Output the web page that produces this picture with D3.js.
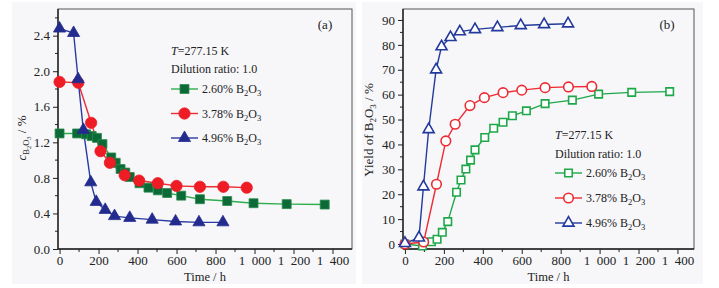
<!DOCTYPE html>
<html>
<head>
<meta charset="utf-8">
<script src="https://cdn.jsdelivr.net/npm/d3@7"></script>
<style>
  body { margin: 0; background: #fff; }
  text { font-family: "Liberation Serif", "Times New Roman", serif; fill: #222; }
</style>
</head>
<body>
<div id="chart"></div>
<script>
const width = 719;
const height = 288;

// sampling times (h)
const timeGreen = [0, 90, 136, 165, 192, 220, 265, 288, 313, 337, 360, 410, 456, 504, 552, 624, 720, 860, 995, 1165, 1360];
const timeRed = [0, 96, 162, 210, 258, 334, 408, 504, 600, 720, 840, 960];
const timeBlue = [0, 72, 95, 122, 160, 188, 234, 282, 360, 475, 595, 715, 838];

// (a) B2O3 concentration, %
const concGreen = [1.30, 1.30, 1.29, 1.27, 1.25, 1.18, 1.03, 0.97, 0.90, 0.86, 0.81, 0.74, 0.69, 0.66, 0.63, 0.60, 0.56, 0.54, 0.515, 0.505, 0.50];
const concRed = [1.88, 1.87, 1.42, 1.10, 0.97, 0.83, 0.77, 0.74, 0.71, 0.70, 0.70, 0.69];
const concBlue = [2.48, 2.43, 1.91, 1.34, 0.75, 0.53, 0.44, 0.37, 0.35, 0.33, 0.31, 0.30, 0.30];

// (b) yield of B2O3, %
const yieldGreen = [0, -0.8, 0.9, 1.9, 4.7, 9, 20.8, 25.7, 30.1, 33.7, 37.8, 42.8, 46.5, 48.9, 51.5, 53.5, 56.4, 57.8, 60.2, 60.9, 61.2];
const yieldRed = [0, 0.8, 24, 41.4, 48.1, 55.6, 58.8, 60.8, 61.8, 62.8, 63.1, 63.3];
const yieldBlue = [0.3, 2.5, 23, 46, 70, 79.3, 83, 85.3, 86.2, 87, 87.8, 88.2, 88.5];

const seriesNames = ["2.60%", "3.78%", "4.96%"];
const xTicks = [0, 200, 400, 600, 800, 1000, 1200, 1400];
const yTicksA = [0, 0.4, 0.8, 1.2, 1.6, 2.0, 2.4];
const yTicksB = [0, 10, 20, 30, 40, 50, 60, 70, 80, 90];

const svg = d3.select("#chart").append("svg")
  .attr("width", width).attr("height", height);

// light panel backgrounds
svg.append("rect").attr("x", 12).attr("y", 2).attr("width", 344).attr("height", 282).attr("fill", "#f7f7f9");
svg.append("rect").attr("x", 362).attr("y", 2).attr("width", 341).attr("height", 282).attr("fill", "#f7f7f9");

// thousands separated by a figure space, as in the original ("1 000")
const fmtThousands = (d) => String(d).replace(/\B(?=(\d{3})+(?!\d))/g, "\u2007");

function zip(t, v) { return t.map((d, i) => [d, v[i]]); }

// draws one panel: frame, axes, lines, markers
function panel(opt) {
  const { x, y, yTicks, yMinor, yFmt, series, hollow } = opt;
  const g = svg.append("g");
  const [x0, x1] = x.range();
  const [y0, y1] = y.range();

  g.append("rect")
    .attr("x", x0).attr("y", y1).attr("width", x1 - x0).attr("height", y0 - y1)
    .attr("fill", "none").attr("stroke", "#555").attr("stroke-width", 1);

  // minor ticks
  const xMinor = d3.range(100, 1500, 200);
  g.append("g").selectAll("line").data(xMinor).join("line")
    .attr("x1", (d) => x(d)).attr("x2", (d) => x(d))
    .attr("y1", y0).attr("y2", y0 + 3).attr("stroke", "#222");
  g.append("g").selectAll("line").data(yMinor).join("line")
    .attr("x1", x0 - 3).attr("x2", x0)
    .attr("y1", (d) => y(d)).attr("y2", (d) => y(d)).attr("stroke", "#222");

  const ax = g.append("g")
    .attr("transform", `translate(0,${y0})`)
    .call(d3.axisBottom(x).tickValues(xTicks).tickFormat(fmtThousands).tickSizeOuter(0).tickSize(5).tickPadding(2));
  const ay = g.append("g")
    .attr("transform", `translate(${x0},0)`)
    .call(d3.axisLeft(y).tickValues(yTicks).tickFormat(yFmt).tickSizeOuter(0).tickSize(5).tickPadding(3));
  [ax, ay].forEach((a) => {
    a.select(".domain").attr("stroke", "#222").attr("stroke-width", 1.4);
    a.selectAll(".tick line").attr("stroke", "#222");
    a.selectAll(".tick text").attr("font-size", 13).attr("fill", "#222")
      .style("font-family", '"Liberation Serif", serif');
  });
  ax.select(".domain").attr("d", `M${x0},0H${x1}`);
  ay.select(".domain").attr("d", `M0,${y0}V${y1}`);

  g.append("text").attr("x", (x0 + x1) / 2).attr("y", 281)
    .attr("text-anchor", "middle").attr("font-size", 12.5).text("Time / h");

  const line = d3.line().x((d) => x(d[0])).y((d) => y(d[1]));
  series.forEach((s) => {
    g.append("path").datum(s.data).attr("d", line)
      .attr("fill", "none").attr("stroke", s.line).attr("stroke-width", 1.4);
  });
  series.forEach((s) => {
    g.append("g").selectAll("path").data(s.data).join("path")
      .attr("transform", (d) => `translate(${x(d[0])},${y(d[1])})`)
      .attr("d", d3.symbol().type(s.symbol).size(s.size))
      .attr("fill", hollow ? "#fff" : s.fill)
      .attr("stroke", hollow ? s.line : s.edge)
      .attr("stroke-width", hollow ? 1.6 : 0.8);
  });
  return g;
}

function legend(g, lx, yT, yD, yFirst, gap, series, hollow) {
  g.append("text").attr("x", lx).attr("y", yT).attr("font-size", 12)
    .call((t) => {
      t.append("tspan").attr("font-style", "italic").text("T");
      t.append("tspan").text("=277.15 K");
    });
  g.append("text").attr("x", lx).attr("y", yD).attr("font-size", 12)
    .text("Dilution ratio: 1.0");
  series.forEach((s, i) => {
    const yy = yFirst + i * gap;
    g.append("line").attr("x1", lx).attr("x2", lx + 27).attr("y1", yy - 4).attr("y2", yy - 4)
      .attr("stroke", s.line).attr("stroke-width", 1.4);
    g.append("path").attr("transform", `translate(${lx + 13.5},${yy - 4})`)
      .attr("d", d3.symbol().type(s.symbol).size(s.size))
      .attr("fill", hollow ? "#fff" : s.fill)
      .attr("stroke", hollow ? s.line : s.edge)
      .attr("stroke-width", hollow ? 1.6 : 0.8);
    const t = g.append("text").attr("x", lx + 31).attr("y", yy).attr("font-size", 12);
    t.append("tspan").text(seriesNames[i] + " B");
    t.append("tspan").attr("font-size", 8.5).attr("dy", 3).text("2");
    t.append("tspan").attr("dy", -3).text("O");
    t.append("tspan").attr("font-size", 8.5).attr("dy", 3).text("3");
  });
}

// ---- panel (a)
const xA = d3.scaleLinear().domain([-8, 1500]).range([58, 352]);
const yA = d3.scaleLinear().domain([0, 2.7]).range([249, 9]);
const seriesA = [
  { data: zip(timeGreen, concGreen), line: "#2eaf4d", fill: "#0c6a38", edge: "#2a8a4a", symbol: d3.symbolSquare, size: 80 },
  { data: zip(timeRed, concRed), line: "#ee2c34", fill: "#ee1c25", edge: "#ee1c25", symbol: d3.symbolCircle, size: 100 },
  { data: zip(timeBlue, concBlue), line: "#2b3aa0", fill: "#232c8e", edge: "#232c8e", symbol: d3.symbolTriangle, size: 64 }
];
const gA = panel({
  x: xA, y: yA, yTicks: yTicksA, yMinor: [0.2, 0.6, 1.0, 1.4, 1.8, 2.2, 2.6],
  yFmt: d3.format(".1f"), series: seriesA, hollow: false
});
legend(gA, 171, 55, 73, 93, 24.5, seriesA, false);
gA.append("text").attr("x", 325).attr("y", 29).attr("text-anchor", "middle").attr("font-size", 13).text("(a)");

// y title (a)
const tA = gA.append("text").attr("transform", "translate(26,138) rotate(-90)")
  .attr("text-anchor", "middle").attr("font-size", 13);
tA.append("tspan").attr("font-style", "italic").text("c");
tA.append("tspan").attr("font-size", 8.5).attr("dy", 3).text("B");
tA.append("tspan").attr("font-size", 6.5).attr("dy", 2).text("2");
tA.append("tspan").attr("font-size", 8.5).attr("dy", -2).text("O");
tA.append("tspan").attr("font-size", 6.5).attr("dy", 2).text("3");
tA.append("tspan").attr("dy", -5).text(" / %");

// ---- panel (b)
const xB = d3.scaleLinear().domain([-10, 1485]).range([403, 694]);
const yB = d3.scaleLinear().domain([-2, 94.4]).range([249, 9]);
const seriesB = [
  { data: zip(timeGreen, yieldGreen), line: "#1fa84a", symbol: d3.symbolSquare, size: 56 },
  { data: zip(timeRed, yieldRed), line: "#ee2a32", symbol: d3.symbolCircle, size: 72 },
  { data: zip(timeBlue, yieldBlue), line: "#23399c", symbol: d3.symbolTriangle, size: 52 }
];
const gB = panel({
  x: xB, y: yB, yTicks: yTicksB, yMinor: [5, 15, 25, 35, 45, 55, 65, 75, 85],
  yFmt: d3.format("d"), series: seriesB, hollow: true
});
legend(gB, 555, 139, 158, 177, 25, seriesB, true);
gB.append("text").attr("x", 667).attr("y", 29).attr("text-anchor", "middle").attr("font-size", 13).text("(b)");

const tB = gB.append("text").attr("transform", "translate(373,130) rotate(-90)")
  .attr("text-anchor", "middle").attr("font-size", 13);
tB.append("tspan").text("Yield of B");
tB.append("tspan").attr("font-size", 9).attr("dy", 3).text("2");
tB.append("tspan").attr("dy", -3).text("O");
tB.append("tspan").attr("font-size", 9).attr("dy", 3).text("3");
tB.append("tspan").attr("dy", -3).text(" / %");
</script>
</body>
</html>
